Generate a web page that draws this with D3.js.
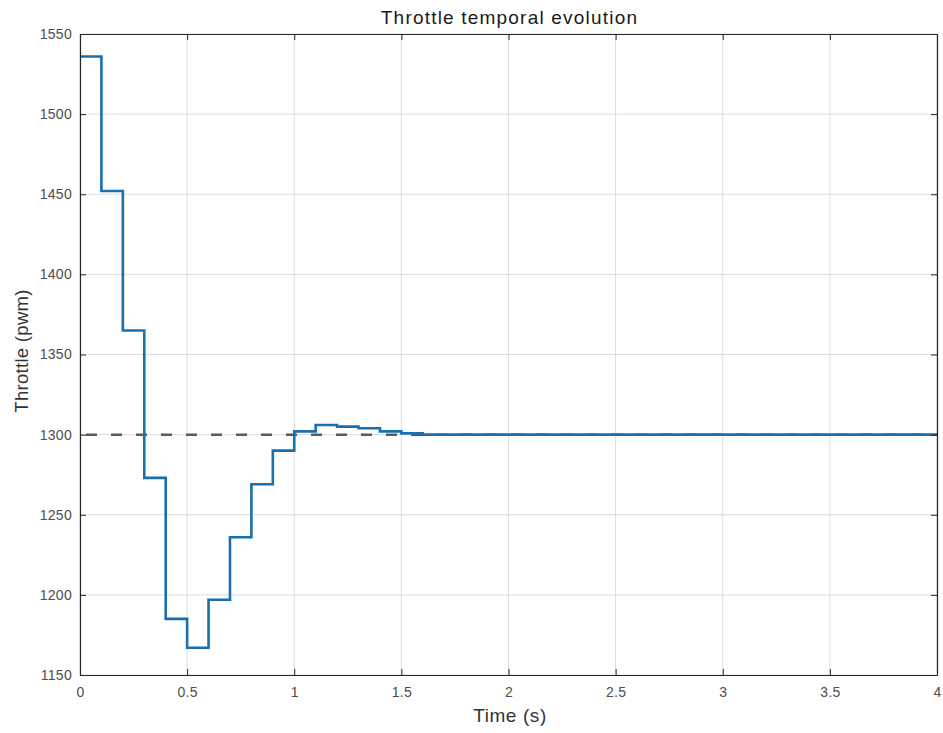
<!DOCTYPE html>
<html><head><meta charset="utf-8">
<script src="https://cdn.jsdelivr.net/npm/d3@7"></script>
<style>
body{margin:0;background:#fff;}
svg{display:block;font-family:"Liberation Sans",Arial,Helvetica,sans-serif;}
</style></head>
<body><svg id="c" width="943" height="733"></svg>
<script>
// step start times (s)
const stepTimes = [0,0.1,0.2,0.3,0.4,0.5,0.6,0.7,0.8,0.9,1.0,1.1,1.2,1.3,1.4,1.5,1.6,1.7,1.8,1.9,2.0,2.1,2.2,2.3,2.4,2.5,2.6,2.7,2.8,2.9,3.0,3.1,3.2,3.3,3.4,3.5,3.6,3.7,3.8,3.9,4.0];
// throttle value held during each step (pwm)
const throttleValues = [1536,1452,1365,1273,1185,1167,1197,1236,1269,1290,1302,1306,1305,1304,1302,1300.8,1300,1300,1300,1300,1300,1300,1300,1300,1300,1300,1300,1300,1300,1300,1300,1300,1300,1300,1300,1300,1300,1300,1300,1300,1300];
const referenceValue = [1300];
const xTicks = [0,0.5,1,1.5,2,2.5,3,3.5,4];
const yTicks = [1150,1200,1250,1300,1350,1400,1450,1500,1550];
const titleText = "Throttle temporal evolution";
const xLabel = "Time (s)";
const yLabel = "Throttle (pwm)";

const W = 943, H = 733;
const m = {l:80, r:6, t:34, b:58};
const svg = d3.select("#c");
const x = d3.scaleLinear().domain([0,4]).range([m.l, W-m.r]);
const y = d3.scaleLinear().domain([1150,1550]).range([H-m.b, m.t]);

// grid
const g = svg.append("g");
g.selectAll(".gx").data(xTicks).join("line")
  .attr("x1",d=>x(d)).attr("x2",d=>x(d)).attr("y1",y(1150)).attr("y2",y(1550))
  .attr("stroke","#dcdcdc").attr("stroke-width",1);
g.selectAll(".gy").data(yTicks).join("line")
  .attr("y1",d=>y(d)).attr("y2",d=>y(d)).attr("x1",x(0)).attr("x2",x(4))
  .attr("stroke","#dcdcdc").attr("stroke-width",1);

// reference dashed line
svg.append("line")
  .attr("x1",x(0)).attr("x2",x(4)).attr("y1",y(referenceValue[0])).attr("y2",y(referenceValue[0]))
  .attr("stroke","#5a5a5a").attr("stroke-width",2.5).attr("stroke-dasharray","11,14")
  .attr("stroke-dashoffset",-6);

// step line
const pts = stepTimes.map((t,i)=>[t, throttleValues[i]]);
const line = d3.line().x(d=>x(d[0])).y(d=>y(d[1])).curve(d3.curveStepAfter);
svg.append("path").datum(pts).attr("d",line)
  .attr("fill","none").attr("stroke","#1a6fb0").attr("stroke-width",2.6).attr("stroke-linejoin","miter");

// axes (ticks inward)
const ax = d3.axisBottom(x).tickValues(xTicks).tickSizeInner(-6).tickSizeOuter(0).tickPadding(12).tickFormat(d3.format("~g"));
const ay = d3.axisLeft(y).tickValues(yTicks).tickSizeInner(-6).tickSizeOuter(0).tickPadding(8).tickFormat(d3.format("d"));
const axT = d3.axisTop(x).tickValues(xTicks).tickSizeInner(-6).tickSizeOuter(0).tickFormat("");
const ayR = d3.axisRight(y).tickValues(yTicks).tickSizeInner(-6).tickSizeOuter(0).tickFormat("");

function style(sel){
  sel.select(".domain").attr("stroke","#262626").attr("stroke-width",1.2);
  sel.selectAll(".tick line").attr("stroke","#262626").attr("stroke-width",1);
  sel.selectAll(".tick text").attr("fill","#4d4d4d").style("font-size","14px")
    .style("letter-spacing","0.3px").style("font-family","'Liberation Sans',Arial,sans-serif");
}
svg.append("g").attr("transform",`translate(0,${y(1150)})`).call(ax).call(style);
svg.append("g").attr("transform",`translate(${x(0)},0)`).call(ay).call(style);
svg.append("g").attr("transform",`translate(0,${y(1550)})`).call(axT).call(style);
svg.append("g").attr("transform",`translate(${x(4)},0)`).call(ayR).call(style);

// labels
svg.append("text").attr("x",509.5).attr("y",24).attr("text-anchor","middle")
  .style("font-size","19px").style("letter-spacing","1.2px").attr("fill","#1a1a1a").text(titleText);
svg.append("text").attr("x",510).attr("y",722).attr("text-anchor","middle")
  .style("font-size","19px").style("letter-spacing","0.6px").attr("fill","#333").text(xLabel);
svg.append("text").attr("transform",`translate(28,351) rotate(-90)`).attr("text-anchor","middle")
  .style("font-size","18.5px").style("letter-spacing","0.3px").attr("fill","#333").text(yLabel);
</script></body></html>
